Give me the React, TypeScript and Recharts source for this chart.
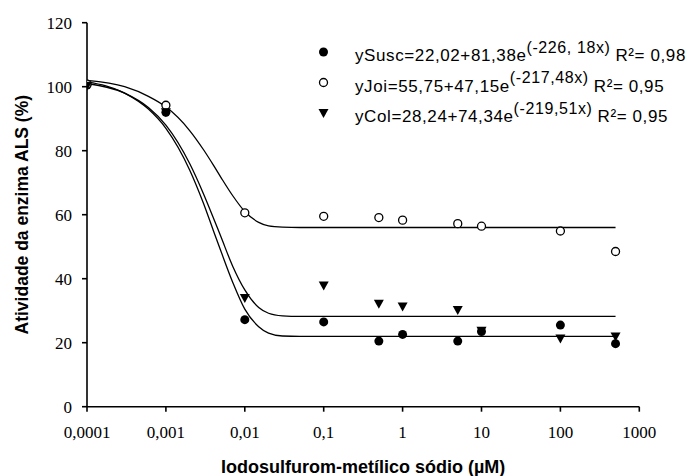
import { ComposedChart, Line, Scatter, XAxis, YAxis, Legend } from 'recharts';

// doses (µM) where the enzyme activity was measured
const doses = [0.0001, 0.001, 0.01, 0.1, 0.5, 1, 5, 10, 100, 500];
const suscValues = [100.5, 92, 27.2, 26.5, 20.5, 22.6, 20.5, 23.5, 25.5, 19.7];
const joiValues = [100.8, 94.2, 60.6, 59.5, 59.1, 58.3, 57.2, 56.4, 54.9, 48.5];
const colValues = [100.3, 92, 34, 37.9, 32.2, 31.3, 30.2, 23.7, 21.3, 21.9];

// fitted curves
const curveX = [0.0001, 0.0003, 0.0006, 0.001, 0.002, 0.003, 0.004, 0.005, 0.007, 0.01, 0.015, 0.02, 0.03, 0.05, 0.1, 1, 10, 100, 500];
const suscCurve = [101.5, 98, 93, 87, 74, 63.5, 55, 48.5, 39, 30.5, 25, 23, 22.1, 22, 22, 22, 22, 22, 22];
const joiCurve = [102, 100, 97, 93.7, 86.3, 80.3, 75.5, 71.6, 66, 61, 57.6, 56.5, 56.1, 56, 56, 56, 56, 56, 56];
const colCurve = [101, 98, 93.5, 88, 76, 66.5, 59, 53, 44, 36.5, 31, 29.2, 28.4, 28.2, 28.2, 28.2, 28.2, 28.2, 28.2];

const xTicks = [0.0001, 0.001, 0.01, 0.1, 1, 10, 100, 1000];
const xTickLabels = ['0,0001', '0,001', '0,01', '0,1', '1', '10', '100', '1000'];
const yTicks = [0, 20, 40, 60, 80, 100, 120];

const legendEquations = ['ySusc=22,02+81,38e', 'yJoi=55,75+47,15e', 'yCol=28,24+74,34e'];
const legendExponents = ['(-226, 18x)', '(-217,48x)', '(-219,51x)'];
const legendR2 = ['R²= 0,98', 'R²= 0,95', 'R²= 0,95'];
const legendMarkers = ['filled', 'open', 'triangle'];

const toPoints = (xs: number[], ys: number[]) => xs.map((x, i) => ({ x, y: ys[i] }));

const suscPoints = toPoints(doses, suscValues);
const joiPoints = toPoints(doses, joiValues);
const colPoints = toPoints(doses, colValues);

const Marker = ({ kind, cx, cy }: { kind: string; cx: number; cy: number }) => {
  if (kind === 'filled') return <circle cx={cx} cy={cy} r={4.5} fill="#000" />;
  if (kind === 'open') return <circle cx={cx} cy={cy} r={4} fill="#fff" stroke="#000" strokeWidth={1.3} />;
  return <path d={`M${cx - 5},${cy - 4} L${cx + 5},${cy - 4} L${cx},${cy + 5} Z`} fill="#000" />;
};

const EquationLegend = () => (
  <svg width={382} height={100}>
    {legendEquations.map((eq, i) => (
      <g key={eq}>
        <Marker kind={legendMarkers[i]} cx={13.5} cy={17 + i * 30.5} />
        <text
          x={45}
          y={26 + i * 30.5}
          fontFamily="'Liberation Sans', Arial, sans-serif"
          fontSize={17}
          letterSpacing={0.6}
          fill="#000"
        >
          {eq}
          <tspan dy={-8.5} fontSize={16}>{legendExponents[i]}</tspan>
          <tspan dy={8.5} dx={5}>{legendR2[i]}</tspan>
        </text>
      </g>
    ))}
  </svg>
);

const axisFont = { fontFamily: "'Liberation Serif', 'Times New Roman', serif", fontSize: 17, fill: '#000' };
const titleFont = { fontFamily: "'Liberation Sans', Arial, sans-serif", fontWeight: 700, fill: '#000' };

export default function App() {
  return (
    <div style={{ position: 'absolute', left: 0, top: 0, width: 692, height: 476, background: '#fff' }}>
      <ComposedChart width={692} height={476} margin={{ top: 22.7, right: 52.7, bottom: 0, left: 0 }}>
        <XAxis
          dataKey="x"
          type="number"
          scale="log"
          domain={[0.0001, 1000]}
          ticks={xTicks}
          tickFormatter={(v: number) => xTickLabels[xTicks.indexOf(v)] ?? String(v)}
          allowDataOverflow
          height={69.3}
          tickSize={5}
          tickMargin={14}
          tick={axisFont}
          axisLine={{ stroke: '#000', strokeWidth: 1.6 }}
          tickLine={{ stroke: '#000', strokeWidth: 1.6 }}
          label={{
            value: 'Iodosulfurom-metílico sódio (µM)',
            position: 'insideBottom',
            offset: 3,
            style: { ...titleFont, fontSize: 18 },
          }}
        />
        <YAxis
          dataKey="y"
          type="number"
          domain={[0, 120]}
          ticks={yTicks}
          width={87}
          tickSize={5}
          tickMargin={10}
          tick={axisFont}
          axisLine={{ stroke: '#000', strokeWidth: 1.6 }}
          tickLine={{ stroke: '#000', strokeWidth: 1.6 }}
          label={{
            value: 'Atividade da enzima ALS (%)',
            angle: -90,
            position: 'insideLeft',
            offset: 22,
            style: { ...titleFont, fontSize: 17.5, textAnchor: 'middle' },
          }}
        />
        <Legend
          layout="vertical"
          align="center"
          verticalAlign="middle"
          wrapperStyle={{ left: 310, top: 35, width: 382, height: 100 }}
          content={() => <EquationLegend />}
        />
        <Line data={toPoints(curveX, suscCurve)} dataKey="y" type="monotone" stroke="#000" strokeWidth={1.3} dot={false} isAnimationActive={false} legendType="none" />
        <Line data={toPoints(curveX, joiCurve)} dataKey="y" type="monotone" stroke="#000" strokeWidth={1.3} dot={false} isAnimationActive={false} legendType="none" />
        <Line data={toPoints(curveX, colCurve)} dataKey="y" type="monotone" stroke="#000" strokeWidth={1.3} dot={false} isAnimationActive={false} legendType="none" />
        <Scatter data={suscPoints} dataKey="y" isAnimationActive={false} shape={(p: any) => <Marker kind="filled" cx={p.cx} cy={p.cy} />} />
        <Scatter data={joiPoints} dataKey="y" isAnimationActive={false} shape={(p: any) => <Marker kind="open" cx={p.cx} cy={p.cy} />} />
        <Scatter data={colPoints} dataKey="y" isAnimationActive={false} shape={(p: any) => <Marker kind="triangle" cx={p.cx} cy={p.cy} />} />
      </ComposedChart>
    </div>
  );
}
